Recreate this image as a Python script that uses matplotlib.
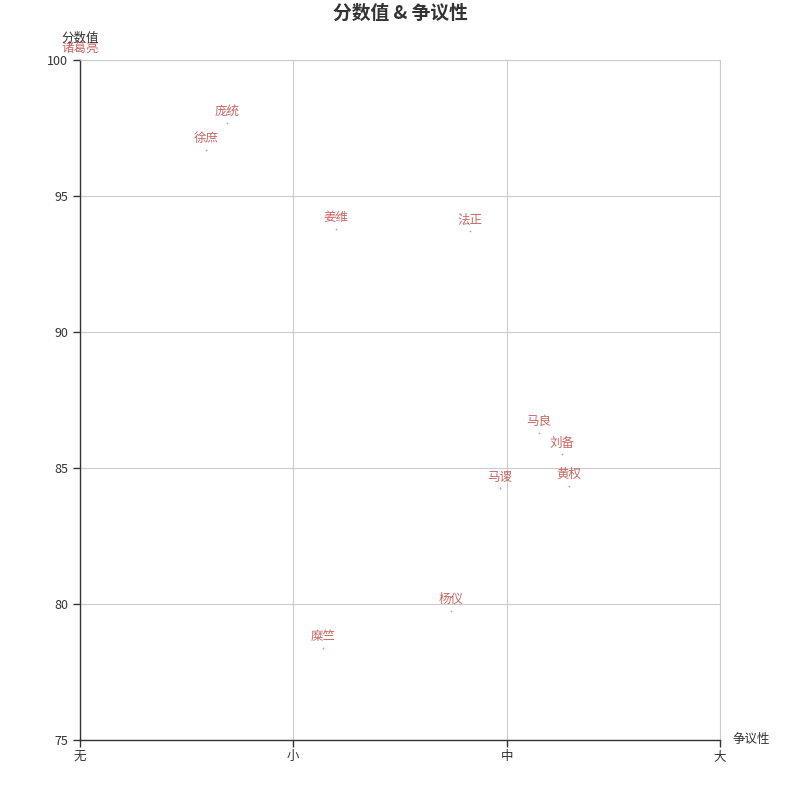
import matplotlib
matplotlib.use("Agg")
import matplotlib.pyplot as plt

plt.rcParams['font.family'] = ['Noto Sans CJK SC', 'DejaVu Sans']

# 数据
names = ["诸葛亮", "庞统", "徐庶", "姜维", "法正", "马良", "刘备", "黄权", "马谡", "杨仪", "糜竺"]
controversy = [0.0, 0.69, 0.59, 1.2, 1.83, 2.15, 2.26, 2.29, 1.97, 1.74, 1.14]
score = [100.0, 97.7, 96.7, 93.8, 93.7, 86.3, 85.5, 84.35, 84.25, 79.75, 78.4]
x_labels = ["无", "小", "中", "大"]
y_ticks = [75, 80, 85, 90, 95, 100]

red = "#b8433f"
fig = plt.figure(figsize=(8, 8), dpi=100)
ax = fig.add_axes([0.1, 0.075, 0.8, 0.85])

ax.scatter(controversy, score, s=1.5, color=red, alpha=0.6, zorder=3, linewidths=0)
for n, x, y in zip(names, controversy, score):
    ax.annotate(n, (x, y), xytext=(0, 3.5), textcoords="offset points",
                ha="center", va="bottom", fontsize=9, color=red, alpha=0.8)

ax.set_xlim(0, 3)
ax.set_ylim(75, 100)
ax.set_xticks(range(len(x_labels)))
ax.set_xticklabels(x_labels)
ax.set_yticks(y_ticks)
ax.grid(True, color="#cccccc", linewidth=0.8)
ax.set_axisbelow(True)
for s in ["top", "right"]:
    ax.spines[s].set_color("#cccccc")
    ax.spines[s].set_linewidth(0.8)
for s in ["left", "bottom"]:
    ax.spines[s].set_color("#333333")
    ax.spines[s].set_linewidth(1)
ax.tick_params(colors="#333333", labelsize=9, length=5, width=1)
ax.tick_params(axis="x", pad=2)

fig.text(0.5, 0.984, "分数值 & 争议性", ha="center", va="center",
         fontsize=13.5, fontweight="bold", color="#333333")
ax.text(0, 1.022, "分数值", transform=ax.transAxes, ha="center", va="bottom",
        fontsize=9, color="#333333")
ax.text(1.02, 0, "争议性", transform=ax.transAxes, ha="left", va="center",
        fontsize=9, color="#333333")

fig.savefig("out.png", dpi=100, facecolor="white")
